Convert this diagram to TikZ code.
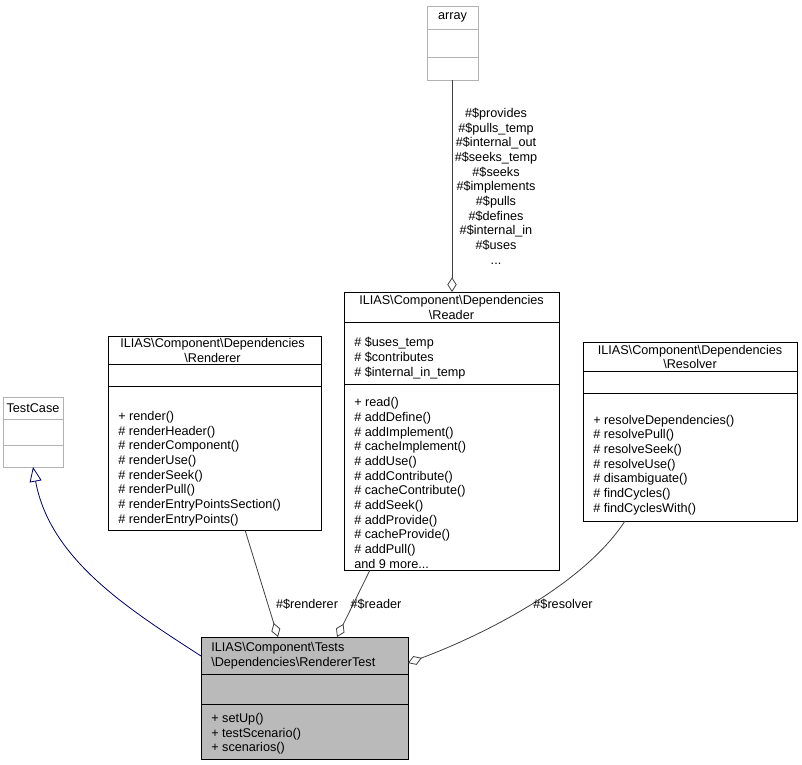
\documentclass[tikz,border=0pt]{standalone}
\usepackage{fontspec}
\setmainfont{Liberation Sans}
\usetikzlibrary{arrows.meta}
\begin{document}
\begin{tikzpicture}[x=0.75pt,y=-0.75pt,font=\fontsize{9.5}{11}\selectfont,
  box/.style={draw=black,line width=0.6pt},
  gbox/.style={draw=gray!60,line width=0.6pt},
  txt/.style={anchor=west,inner sep=0pt},
  ctr/.style={anchor=center,inner sep=0pt,align=center},
  agg/.style={draw=black!75,line width=0.6pt,-{Diamond[open,length=11pt,width=7pt]}},
  lbl/.style={inner sep=0pt,font=\fontsize{9.5}{11}\selectfont}]
\useasboundingbox (0,0) rectangle (802,764);
% array
\draw[gbox] (427,6) rectangle (478,80); \draw[gbox] (427,29)--(478,29); \draw[gbox] (427,57)--(478,57);
\node[ctr] (array) at (452.5,17.5) {array};
\coordinate (arrB) at (452,80);
% TestCase
\draw[gbox] (3,397) rectangle (63,467); \draw[gbox] (3,419)--(63,419); \draw[gbox] (3,445)--(63,445);
\node[ctr] (tc) at (33,408.5) {TestCase};
\coordinate (tcB) at (33,467);
% Renderer
\draw[box] (108,336) rectangle (321,530); \draw[box] (108,364)--(321,364); \draw[box] (108,386)--(321,386);
\node[ctr] (ren) at (212.5,350.5) {ILIAS\textbackslash Component\textbackslash Dependencies\\\textbackslash Renderer};
\node[txt,align=left] (renm) at (118,468.5) {+ render()\\\# renderHeader()\\\# renderComponent()\\\# renderUse()\\\# renderSeek()\\\# renderPull()\\\# renderEntryPointsSection()\\\# renderEntryPoints()};
\coordinate (renB) at (245,530);
% Reader
\draw[box] (344,292) rectangle (559,570); \draw[box] (344,322)--(559,322); \draw[box] (344,384)--(559,384);
\node[ctr] (rea) at (451.5,307.5) {ILIAS\textbackslash Component\textbackslash Dependencies\\\textbackslash Reader};
\node[txt,align=left] (reaa) at (354,358) {\# \$uses\_temp\\\# \$contributes\\\# \$internal\_in\_temp};
\node[txt,align=left] (ream) at (354,483) {+ read()\\\# addDefine()\\\# addImplement()\\\# cacheImplement()\\\# addUse()\\\# addContribute()\\\# cacheContribute()\\\# addSeek()\\\# addProvide()\\\# cacheProvide()\\\# addPull()\\and 9 more...};
\coordinate (reaT) at (452,292);
\coordinate (reaB) at (370,570);
% Resolver
\draw[box] (583,342) rectangle (797,521); \draw[box] (583,371)--(797,371); \draw[box] (583,393)--(797,393);
\node[ctr] (res) at (690,357) {ILIAS\textbackslash Component\textbackslash Dependencies\\\textbackslash Resolver};
\node[txt,align=left] (resm) at (593,465) {+ resolveDependencies()\\\# resolvePull()\\\# resolveSeek()\\\# resolveUse()\\\# disambiguate()\\\# findCycles()\\\# findCyclesWith()};
\coordinate (resB) at (625,521);
% RendererTest
\fill[black!27] (201,637) rectangle (408,759);
\draw[box] (201,637) rectangle (408,759); \draw[box] (201,674)--(408,674); \draw[box] (201,704)--(408,704);
\node[txt,align=left] (rt) at (211,656) {ILIAS\textbackslash Component\textbackslash Tests\\\textbackslash Dependencies\textbackslash RendererTest};
\node[txt,align=left] (rtm) at (211,734) {+ setUp()\\+ testScenario()\\+ scenarios()};
\coordinate (rtL) at (201,656);
\coordinate (rtA) at (278,637);
\coordinate (rtB) at (337,637);
\coordinate (rtR) at (408,663);
% edges
\draw[draw=blue!40!black,line width=0.6pt,-{Triangle[open,length=11pt,width=9pt]}] (rtL) .. controls (130,610) and (50,560) .. (tcB);
\draw[agg] (renB) -- (rtA);
\draw[agg] (reaB) -- (rtB);
\draw[agg] (resB) .. controls (580,590) and (470,640) .. (rtR);
\draw[agg] (arrB) -- (reaT);
\node[lbl] (l1) at (307,604) {\#\$renderer};
\node[lbl] (l2) at (376,604) {\#\$reader};
\node[lbl] (l3) at (563,604) {\#\$resolver};
\node[lbl,align=center] (l4) at (496,186) {\#\$provides\\\#\$pulls\_temp\\\#\$internal\_out\\\#\$seeks\_temp\\\#\$seeks\\\#\$implements\\\#\$pulls\\\#\$defines\\\#\$internal\_in\\\#\$uses\\...};
\end{tikzpicture}
\end{document}
